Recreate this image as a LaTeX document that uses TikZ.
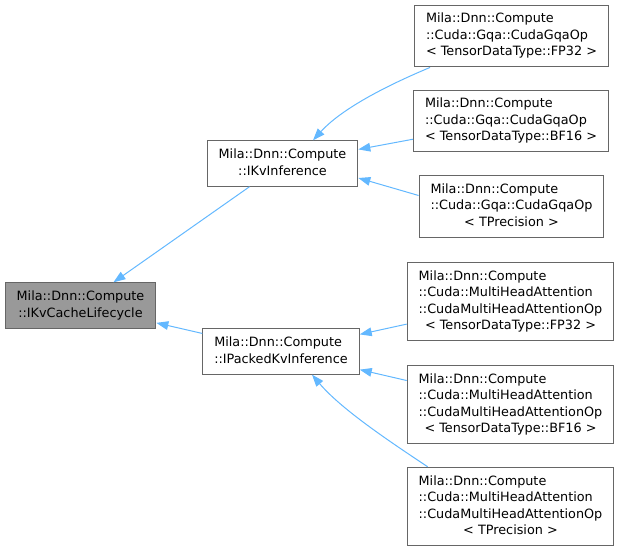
\documentclass[tikz,border=0pt]{standalone}
\usepackage{fontspec}
\setmainfont{DejaVu Sans}
\usepackage{tikz}
\usetikzlibrary{arrows.meta,calc}
\definecolor{dxedge}{HTML}{63B8FF}
\definecolor{dxline}{HTML}{666666}
\definecolor{dxgray}{HTML}{999999}
\newcommand{\dxtext}[2]{\begin{tabular}{@{}l@{}}#1\\\multicolumn{1}{@{}c@{}}{#2}\end{tabular}}
\tikzset{
	clsbox/.style={draw=dxline, line width=0.75pt, fill=white, inner xsep=8.6pt, inner ysep=4.6pt, font=\fontsize{9.6}{12.4}\selectfont},
	inherit/.style={dxedge, line width=0.75pt, -{Triangle[length=9pt,width=6.5pt]}}
}

\begin{document}
\begin{tikzpicture}[x=0.75pt,y=-0.75pt]
			\useasboundingbox (0,0) rectangle (621,552);
			
			\node[clsbox, fill=dxgray] (life) at (80.5,305.5) {\dxtext{Mila::Dnn::Compute}{::IKvCacheLifecycle}};
			\node[clsbox] (ikv) at (282.5,163.5) {\dxtext{Mila::Dnn::Compute}{::IKvInference}};
			\node[clsbox] (packed) at (281,351.5) {\dxtext{Mila::Dnn::Compute}{::IPackedKvInference}};
			
			\node[clsbox] (gqafp) at (511.5,36) {\dxtext{Mila::Dnn::Compute\\::Cuda::Gqa::CudaGqaOp}{< TensorDataType::FP32 >}};
			\node[clsbox] (gqabf) at (511,121) {\dxtext{Mila::Dnn::Compute\\::Cuda::Gqa::CudaGqaOp}{< TensorDataType::BF16 >}};
			\node[clsbox] (gqatp) at (511.5,206.5) {\dxtext{Mila::Dnn::Compute\\::Cuda::Gqa::CudaGqaOp}{< TPrecision >}};
			
			\node[clsbox] (mhafp) at (510.5,301.5) {\dxtext{Mila::Dnn::Compute\\::Cuda::MultiHeadAttention\\::CudaMultiHeadAttentionOp}{< TensorDataType::FP32 >}};
			\node[clsbox] (mhabf) at (510.5,404.5) {\dxtext{Mila::Dnn::Compute\\::Cuda::MultiHeadAttention\\::CudaMultiHeadAttentionOp}{< TensorDataType::BF16 >}};
			\node[clsbox] (mhatp) at (510.5,506.5) {\dxtext{Mila::Dnn::Compute\\::Cuda::MultiHeadAttention\\::CudaMultiHeadAttentionOp}{< TPrecision >}};
			
			\draw[inherit] (ikv) -- (life);
			\draw[inherit] (packed) -- (life);
			\draw[inherit] ($(gqafp.south west)+(16,0)$) .. controls (400,80) and (345,105) .. ($(ikv.north)+(30.5,0)$);
			\draw[inherit] (gqabf) -- (ikv);
			\draw[inherit] ($(gqatp.west)+(0,-11)$) -- ($(ikv.east)+(0,14.5)$);
			\draw[inherit] (mhafp) -- (packed);
			\draw[inherit] (mhabf) -- (packed);
			\draw[inherit] ($(mhatp.north west)+(21,0)$) .. controls (392,443) and (342,410) .. ($(packed.south)+(31,0)$);
		\end{tikzpicture}
\end{document}
